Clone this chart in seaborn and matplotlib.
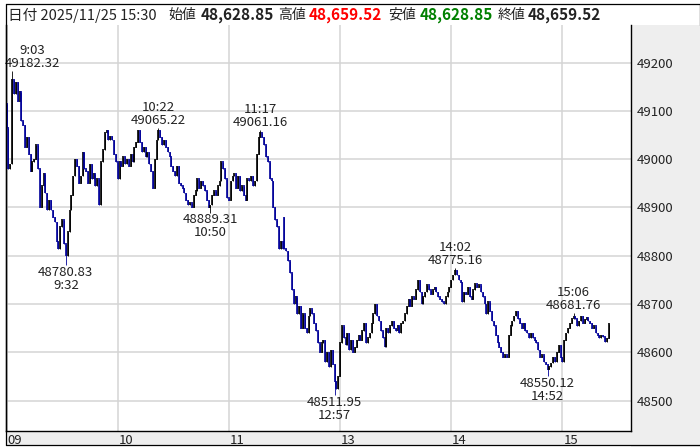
import numpy as np
import pandas as pd
import matplotlib
matplotlib.use("Agg")
import matplotlib.pyplot as plt
import matplotlib.transforms as mtrans
from matplotlib.patches import Rectangle
from matplotlib.lines import Line2D
import seaborn as sns

# 1-minute closes, morning 9:00-11:29
am_open = 49115.0
am_close = [
    49065, 48980, 48990, 49165, 49135, 49160, 49120, 49140, 49080, 49070,
    49025, 49045, 49010, 48975, 48995, 49000, 49030, 48980, 48900, 48945,
    48970, 48930, 48895, 48915, 48895, 48880, 48870, 48830, 48815, 48860,
    48875, 48825, 48800, 48850, 48895, 48925, 48965, 49000, 48985, 48950,
    48965, 49015, 48980, 48975, 48950, 48990, 48960, 48970, 48945, 48960,
    48905, 48995, 49020, 49055, 49060, 49040, 49048, 49040, 49010, 48995,
    48960, 48995, 48985, 49005, 48990, 49000, 48985, 49010, 48995, 49025,
    49035, 49060, 49035, 49015, 49025, 49005, 49015, 48990, 48975, 48940,
    49000, 49040, 49060, 49045, 49030, 49040, 49025, 49015, 49005, 48985,
    48975, 48965, 48985, 48950, 48945, 48940, 48930, 48915, 48905, 48910,
    48900, 48925, 48935, 48960, 48940, 48955, 48945, 48935, 48915, 48900,
    48905, 48925, 48935, 48925, 48945, 48955, 48995, 48980, 48960, 48920,
    48915, 48955, 48965, 48970, 48940, 48965, 48935, 48945, 48925, 48915,
    48960, 48955, 48965, 48945, 48955, 49010, 49045, 49055, 49045, 49030,
    49005, 48995, 48960, 48955, 48900, 48875, 48860, 48815, 48830, 48815,
]

# afternoon 12:30-15:24 plus the 15:30 closing candle
pm_open = 48880.0
pm_close = [
    48815, 48810, 48790, 48765, 48730, 48700, 48715, 48680, 48695, 48650,
    48680, 48650, 48640, 48675, 48690, 48680, 48660, 48645, 48620, 48600,
    48620, 48625, 48580, 48600, 48570, 48605, 48575, 48540, 48525, 48550,
    48620, 48655, 48630, 48615, 48640, 48605, 48625, 48600, 48610, 48625,
    48635, 48625, 48645, 48660, 48620, 48630, 48640, 48660, 48680, 48700,
    48675, 48665, 48645, 48630, 48612, 48650, 48640, 48655, 48665, 48650,
    48645, 48655, 48640, 48660, 48665, 48680, 48695, 48710, 48695, 48715,
    48710, 48730, 48750, 48725, 48700, 48715, 48725, 48740, 48730, 48720,
    48730, 48735, 48725, 48715, 48710, 48705, 48700, 48715, 48725, 48735,
    48750, 48760, 48770, 48760, 48750, 48745, 48705, 48725, 48720, 48735,
    48715, 48710, 48730, 48742, 48735, 48740, 48725, 48715, 48700, 48680,
    48705, 48685, 48665, 48655, 48635, 48620, 48610, 48600, 48590, 48595,
    48590, 48635, 48655, 48665, 48675, 48685, 48670, 48660, 48650, 48660,
    48645, 48640, 48630, 48640, 48630, 48625, 48620, 48605, 48590, 48595,
    48580, 48575, 48565, 48570, 48578, 48590, 48580, 48600, 48615, 48590,
    48580, 48625, 48640, 48650, 48660, 48670, 48675, 48670, 48655, 48665,
    48675, 48660, 48668, 48672, 48665, 48660, 48650, 48655, 48640, 48635,
    48630, 48635, 48632, 48622, 48628.85, 48659.52,
]

# marked extremes: time, price, kind
ext_time = ["9:03", "9:32", "10:22", "10:50", "11:17", "12:57", "14:02", "14:52", "15:06"]
ext_price = [49182.32, 48780.83, 49065.22, 48889.31, 49061.16, 48511.95, 48775.16, 48550.12, 48681.76]
ext_kind = ["high", "low", "high", "low", "high", "low", "high", "low", "high"]

hour_labels = ["09", "10", "11", "13", "14", "15"]
hour_pos = [0, 60, 120, 180, 240, 300]


def time_to_idx(t):
    h, m = map(int, t.split(":"))
    mins = h * 60 + m
    if mins < 12 * 60:
        return mins - 9 * 60
    return 150 + mins - (12 * 60 + 30)


am_o = [am_open] + am_close[:-1]
pm_o = [pm_open] + pm_close[:-1]
pm_o[-1] = 48628.85
df = pd.DataFrame({"open": am_o + pm_o, "close": am_close + pm_close})
df["idx"] = np.arange(len(df))
df["high"] = df[["open", "close"]].max(axis=1)
df["low"] = df[["open", "close"]].min(axis=1)
for t, p, k in zip(ext_time, ext_price, ext_kind):
    i = time_to_idx(t)
    if k == "high":
        df.loc[i, "high"] = p
    else:
        df.loc[i, "low"] = p
df["up"] = df["close"] >= df["open"]

sns.set_theme(style="white")
plt.rcParams["font.family"] = ["Noto Sans CJK JP", "DejaVu Sans"]

W, H = 700, 447
fig = plt.figure(figsize=(W / 100, H / 100), dpi=100)
fig.patch.set_facecolor("white")

ax_l, ax_r, ax_t, ax_b = 6, 631, 25, 431
ax = fig.add_axes([ax_l / W, 1 - ax_b / H, (ax_r - ax_l) / W, (ax_b - ax_t) / H])
ax.set_facecolor("white")

# grey side panel and bottom strip
fig.patches.append(Rectangle((ax_r / W, 0), 1 - ax_r / W, 1 - ax_t / H, transform=fig.transFigure,
                             facecolor="#eeeeee", edgecolor="none", zorder=-1))
fig.patches.append(Rectangle((ax_l / W, 1 - 445 / H), 1 - ax_l / W, (445 - ax_b) / H, transform=fig.transFigure,
                             facecolor="#eeeeee", edgecolor="none", zorder=-1))

up_col, dn_col = "#000000", "#000099"
colors = np.where(df["up"], up_col, dn_col)
ax.vlines(df["idx"], df["low"], df["high"], colors=colors, linewidth=0.6, zorder=3)
bot = df[["open", "close"]].min(axis=1) - 0.8
top = df[["open", "close"]].max(axis=1) + 0.8
ax.vlines(df["idx"], bot, top, colors=colors, linewidth=1.2, zorder=4)

ax.set_xlim(-0.3, 337)
ax.set_ylim(48437, 49278)

ax.set_yticks(np.arange(48500, 49201, 100))
ax.yaxis.tick_right()
ax.tick_params(axis="y", length=0, pad=4, labelsize=9.5, colors="#222222")
ax.set_xticks(hour_pos)
ax.set_xticklabels(hour_labels)
ax.tick_params(axis="x", length=0, pad=2, labelsize=9.5, colors="#222222")
for lab in ax.get_xticklabels():
    lab.set_horizontalalignment("left")
    lab.set_transform(lab.get_transform() + mtrans.ScaledTranslation(1 / 100, 0, fig.dpi_scale_trans))
ax.grid(True, color="#d4d4d4", linewidth=1.1)
ax.set_axisbelow(True)

for s in ["left", "right", "bottom"]:
    ax.spines[s].set_visible(True)
    ax.spines[s].set_color("black")
    ax.spines[s].set_linewidth(1.0)
ax.spines["top"].set_visible(False)

# extreme labels
for t, p, k in zip(ext_time, ext_price, ext_kind):
    i = time_to_idx(t)
    if k == "high":
        txt = f"{t}\n{p:.2f}"
        va, dy = "bottom", 0.5
    else:
        txt = f"{p:.2f}\n{t}"
        va, dy = "top", -0.5
    if i < 10:
        ax.annotate(txt, xy=(-0.3, p), xytext=(-1, dy), textcoords="offset points",
                    ha="left", va=va, multialignment="center", fontsize=9.5, color="#222222",
                    linespacing=1.0, zorder=6)
    else:
        ax.annotate(txt, xy=(i, p), xytext=(0, dy), textcoords="offset points",
                    ha="center", va=va, multialignment="center", fontsize=9.5, color="#222222",
                    linespacing=1.0, zorder=6)

# header box
for xs, ys in [((5.5, 699.5), (4, 4)), ((5.5, 5.5), (4, 445)), ((699.5, 699.5), (4, 25)),
               ((5.5, 700), (445, 445))]:
    fig.lines.append(Line2D([x / W for x in xs], [1 - y / H for y in ys], transform=fig.transFigure,
                            color="black", linewidth=0.9))

last = df.iloc[-1]
hy = 1 - 15 / H
fig.text(8 / W, hy, "日付 2025/11/25 15:30", fontsize=10.5, va="center", ha="left", color="#222222")
head = [
    (168, "始値", None, "#222222"),
    (201, f"{last['open']:,.2f}", "bold", "#222222"),
    (278, "高値", None, "#222222"),
    (309, f"{last['high']:,.2f}", "bold", "#ff0000"),
    (388, "安値", None, "#222222"),
    (420, f"{last['low']:,.2f}", "bold", "#008000"),
    (498, "終値", None, "#222222"),
    (528, f"{last['close']:,.2f}", "bold", "#222222"),
]
for x, s, w, c in head:
    fig.text(x / W, hy, s, fontsize=11 if w else 10, fontweight=w or "normal",
             va="center", ha="left", color=c)

fig.savefig("out.png", dpi=100)
